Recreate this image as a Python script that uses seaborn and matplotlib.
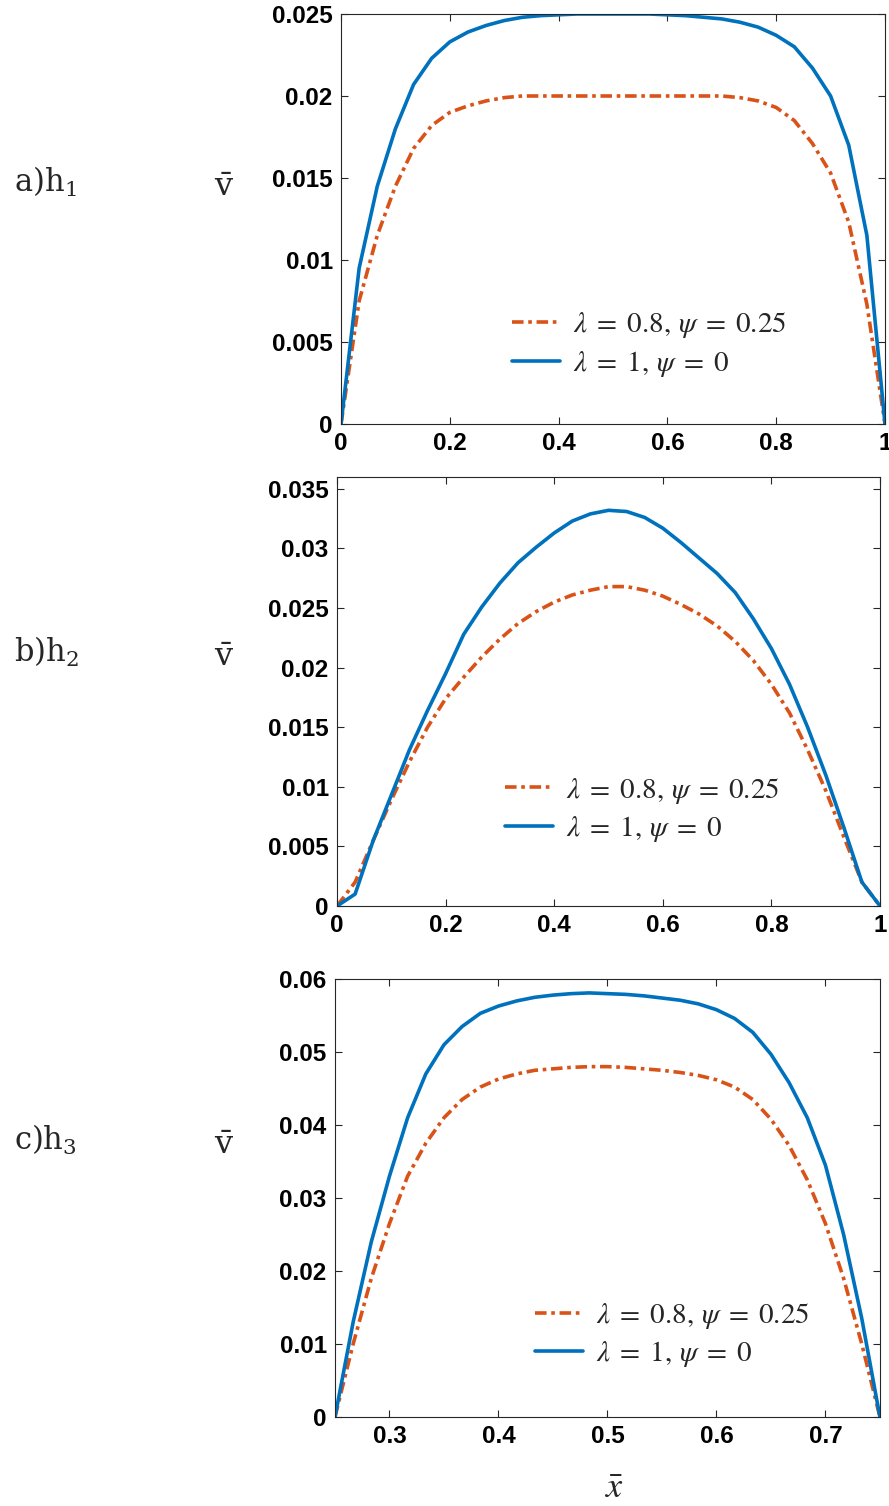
import numpy as np
import pandas as pd
import matplotlib
matplotlib.use("Agg")
import matplotlib.pyplot as plt
import seaborn as sns

# ---------------- data ----------------
x_a = np.linspace(0, 1, 31)
blue_a = [0, 0.0095, 0.0145, 0.0180, 0.0207, 0.0223, 0.0233, 0.0239, 0.0243, 0.0246,
          0.0248, 0.0249, 0.02495, 0.0250, 0.0250, 0.0250, 0.0250, 0.0250, 0.02495, 0.0249,
          0.0248, 0.0247, 0.0245, 0.0242, 0.0237, 0.0230, 0.0217, 0.0200, 0.0170, 0.0115, 0]
orange_a = [0, 0.0075, 0.0115, 0.0145, 0.0168, 0.0182, 0.0190, 0.0194, 0.0197, 0.0199,
            0.0200, 0.0200, 0.0200, 0.0200, 0.0200, 0.0200, 0.0200, 0.0200, 0.0200, 0.0200,
            0.0200, 0.0200, 0.0199, 0.0197, 0.0193, 0.0185, 0.0171, 0.0153, 0.0123, 0.0073, 0]

x_b = np.linspace(0, 1, 31)
blue_b = [0, 0.0010, 0.0055, 0.0093, 0.0131, 0.0164, 0.0195, 0.0228, 0.0251, 0.0271,
          0.0288, 0.0301, 0.0313, 0.0323, 0.0329, 0.0332, 0.0331, 0.0326, 0.0317, 0.0305,
          0.0292, 0.0279, 0.0263, 0.0241, 0.0216, 0.0186, 0.0150, 0.0110, 0.0066, 0.0020, 0]
orange_b = [0, 0.0020, 0.0055, 0.0089, 0.0121, 0.0150, 0.0174, 0.0192, 0.0209, 0.0224,
            0.0237, 0.0247, 0.0255, 0.0261, 0.0265, 0.0268, 0.0268, 0.0265, 0.0260, 0.0253,
            0.0245, 0.0235, 0.0222, 0.0206, 0.0186, 0.0162, 0.0131, 0.0097, 0.0058, 0.0020, 0]

x_c = np.linspace(0.25, 0.75, 31)
blue_c = [0, 0.013, 0.024, 0.033, 0.041, 0.047, 0.051, 0.0535, 0.0553, 0.0563,
          0.0570, 0.0575, 0.0578, 0.0580, 0.0581, 0.0580, 0.0579, 0.0577, 0.0574, 0.0571,
          0.0566, 0.0558, 0.0546, 0.0527, 0.0497, 0.0458, 0.0410, 0.0345, 0.0250, 0.0135, 0]
orange_c = [0, 0.010, 0.019, 0.0265, 0.033, 0.0375, 0.041, 0.0435, 0.0452, 0.0463,
            0.0470, 0.0475, 0.0477, 0.0479, 0.0480, 0.0480, 0.0479, 0.0477, 0.0475, 0.0472,
            0.0468, 0.0462, 0.0452, 0.0435, 0.0408, 0.0372, 0.0325, 0.0265, 0.0190, 0.0100, 0]

series_labels = [r"$\lambda\;=\;0.8,\,\psi\;=\;0.25$", r"$\lambda\;=\;1,\,\psi\;=\;0$"]
panel_labels = [r"a)$\mathrm{h}_1$", r"b)$\mathrm{h}_2$", r"c)$\mathrm{h}_3$"]

xticks_a = [0, 0.2, 0.4, 0.6, 0.8, 1]
xticklabels_a = ["0", "0.2", "0.4", "0.6", "0.8", "1"]
yticks_a = [0, 0.005, 0.01, 0.015, 0.02, 0.025]
yticklabels_a = ["0", "0.005", "0.01", "0.015", "0.02", "0.025"]

xticks_b = [0, 0.2, 0.4, 0.6, 0.8, 1]
xticklabels_b = ["0", "0.2", "0.4", "0.6", "0.8", "1"]
yticks_b = [0, 0.005, 0.01, 0.015, 0.02, 0.025, 0.03, 0.035]
yticklabels_b = ["0", "0.005", "0.01", "0.015", "0.02", "0.025", "0.03", "0.035"]

xticks_c = [0.3, 0.4, 0.5, 0.6, 0.7]
xticklabels_c = ["0.3", "0.4", "0.5", "0.6", "0.7"]
yticks_c = [0, 0.01, 0.02, 0.03, 0.04, 0.05, 0.06]
yticklabels_c = ["0", "0.01", "0.02", "0.03", "0.04", "0.05", "0.06"]

# ---------------- style ----------------
sns.set_theme(style="white")
plt.rcParams["font.family"] = ["Liberation Sans", "DejaVu Sans"]
plt.rcParams["mathtext.fontset"] = "stix"

BLUE = "#0072BD"
ORANGE = "#D95319"
DASHDOT = (0, (3.2, 1.3, 1.0, 1.3))

fig = plt.figure(figsize=(8.89, 15.06), dpi=100)

panels = [
    dict(rect=[0.3836, 0.7185, 0.6119, 0.2722], x=x_a, b=blue_a, o=orange_a,
         xlim=(0, 1), ylim=(0, 0.025), xt=xticks_a, xtl=xticklabels_a, yt=yticks_a, ytl=yticklabels_a,
         leg=(0.314, 0.193)),
    dict(rect=[0.3791, 0.3984, 0.6108, 0.2849], x=x_b, b=blue_b, o=orange_b,
         xlim=(0, 1), ylim=(0, 0.036), xt=xticks_b, xtl=xticklabels_b, yt=yticks_b, ytl=yticklabels_b,
         leg=(0.309, 0.224)),
    dict(rect=[0.3768, 0.0591, 0.6130, 0.2908], x=x_c, b=blue_c, o=orange_c,
         xlim=(0.25, 0.75), ylim=(0, 0.06), xt=xticks_c, xtl=xticklabels_c, yt=yticks_c, ytl=yticklabels_c,
         leg=(0.367, 0.187)),
]

label_y = [182, 652, 1140]
for i, p in enumerate(panels):
    ax = fig.add_axes(p["rect"])
    df = pd.DataFrame({"x": np.concatenate([p["x"], p["x"]]),
                       "v": np.concatenate([p["o"], p["b"]]),
                       "s": [series_labels[0]] * len(p["x"]) + [series_labels[1]] * len(p["x"])})
    sns.lineplot(data=df[df.s == series_labels[0]], x="x", y="v", ax=ax, color=ORANGE,
                 lw=2.6, linestyle=DASHDOT, label=series_labels[0], estimator=None, sort=False)
    sns.lineplot(data=df[df.s == series_labels[1]], x="x", y="v", ax=ax, color=BLUE,
                 lw=2.6, label=series_labels[1], estimator=None, sort=False)
    ax.set_xlim(*p["xlim"])
    ax.set_ylim(*p["ylim"])
    ax.set_xticks(p["xt"])
    ax.set_xticklabels(p["xtl"])
    ax.set_yticks(p["yt"])
    ax.set_yticklabels(p["ytl"])
    ax.set_xlabel("")
    ax.set_ylabel("")
    for sp in ax.spines.values():
        sp.set_color("#262626")
        sp.set_linewidth(0.8)
    ax.tick_params(direction="in", length=5, width=0.8, color="#262626",
                   top=True, right=True, bottom=True, left=True,
                   labelsize=17.5, pad=6)
    for t in ax.get_xticklabels() + ax.get_yticklabels():
        t.set_fontweight("bold")
        t.set_color("black")
    ax.legend(loc="center left", bbox_to_anchor=p["leg"], frameon=False,
              prop={"size": 21}, handlelength=1.65, handletextpad=0.45, labelspacing=0.3,
              borderaxespad=0, borderpad=0)
    # panel labels
    fig.text(14 / 889, 1 - label_y[i] / 1506, panel_labels[i], fontsize=22,
             family="DejaVu Serif", math_fontfamily="dejavuserif", va="center", ha="left")
    fig.text(224 / 889, 1 - (label_y[i] + 6) / 1506, r"$\bar{\mathrm{v}}$", fontsize=23,
             math_fontfamily="dejavuserif", va="center", ha="center")

fig.text(615 / 889, 1 - 1488 / 1506, r"$\bar{x}$", fontsize=26, va="center", ha="center")

fig.savefig("out.png", dpi=100)
